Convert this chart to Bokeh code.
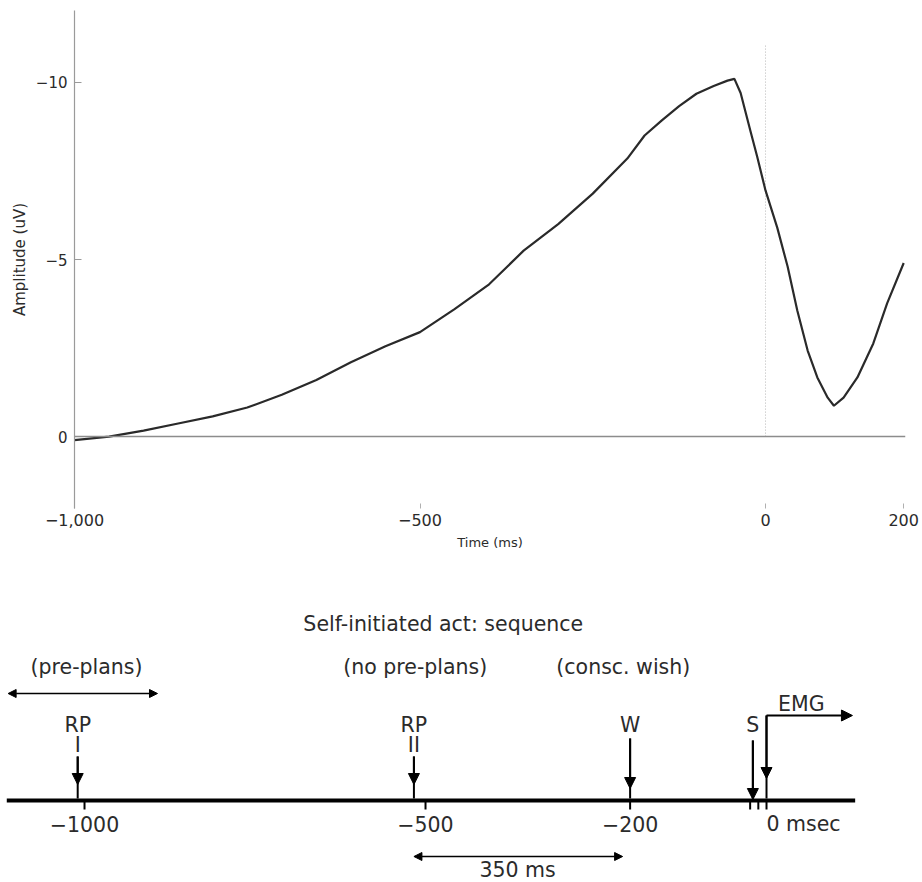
from bokeh.plotting import figure
from bokeh.layouts import column
from bokeh.models import Range1d, FixedTicker, Span, Arrow, NormalHead, ColumnDataSource
from bokeh.core.properties import value
from bokeh.embed import file_html
from bokeh.resources import INLINE

# ---------------- data: readiness potential trace ----------------
time_ms = [-1000, -950, -900, -850, -800, -750, -700, -650, -600, -550, -500,
           -450, -400, -350, -300, -250, -200, -175, -150, -125, -100, -75,
           -55, -45, -36, -22, -12, 0, 17, 32, 46, 61, 75, 90, 99, 113, 133,
           156, 176, 200]
amplitude_uv = [0.1, 0.0, -0.17, -0.37, -0.57, -0.82, -1.18, -1.6, -2.1, -2.55, -2.95,
                -3.6, -4.3, -5.25, -6.0, -6.86, -7.85, -8.5, -8.93, -9.33, -9.68, -9.9,
                -10.05, -10.1, -9.7, -8.64, -7.9, -6.95, -5.9, -4.8, -3.56, -2.43, -1.67,
                -1.1, -0.87, -1.1, -1.67, -2.63, -3.76, -4.9]
x_ticks = [-1000, -500, 0, 200]
x_tick_labels = ["\u22121,000", "\u2212500", "0", "200"]
y_ticks = [-10, -5, 0]
y_tick_labels = ["\u221210", "\u22125", "0"]
onset_ms = [0]
onset_top_uv = [-11.05]

# ---------------- data: timeline diagram ----------------
event_labels_top = ["RP", "RP", "W", "S"]
event_labels_sub = ["I", "II"]
rp_ms = [-1010, -517]
w_ms = [-200]
s_ms = [-20]
emg_ms = [0]
emg_arrow_end_ms = [126]
scale_tick_ms = [-1000, -500, -200, -24, -12, 0]
scale_label_ms = [-1000, -500, -200]
scale_labels = ["\u22121000", "\u2212500", "\u2212200"]
zero_label = ["0 msec"]
timeline_ms = [-1114, 130]
preplan_ms = [-1112, -893]
interval_ms = [-517, -211]
interval_label = ["350 ms"]

FONT = value("DejaVu Sans")
TXT = "#2b2b2b"

# ---------------- top figure ----------------
p = figure(width=920, height=580, x_range=Range1d(-1000, 202.6), y_range=Range1d(2.03, -12.03),
           output_backend="svg", toolbar_location=None,
           min_border_left=74, min_border_right=15, min_border_top=10, min_border_bottom=72)
p.frame_align = False
p.grid.visible = False
p.outline_line_color = None
p.background_fill_color = "white"

p.add_layout(Span(location=0, dimension="width", line_color="#8c8c8c", line_width=1.5))
p.segment(x0=onset_ms, y0=[0], x1=onset_ms, y1=onset_top_uv, line_color="#b8b8b8",
          line_width=1, line_dash="1 2")
p.line(time_ms, amplitude_uv, line_color="#2a2a2a", line_width=2.2)

xa = p.xaxis[0]
xa.ticker = FixedTicker(ticks=x_ticks)
xa.major_label_overrides = {t: l for t, l in zip(x_ticks, x_tick_labels)}
xa.axis_line_color = None
xa.major_tick_in = 5
xa.major_tick_out = 0
xa.major_tick_line_color = "#b0b0b0"
xa.minor_tick_line_color = None
xa.major_label_standoff = 5
xa.major_label_text_font = "DejaVu Sans"
xa.major_label_text_font_size = "16px"
xa.major_label_text_color = TXT
xa.axis_label = "Time (ms)"
xa.axis_label_text_font = "DejaVu Sans"
xa.axis_label_text_font_size = "13px"
xa.axis_label_text_font_style = "normal"
xa.axis_label_text_color = TXT
xa.axis_label_standoff = 6

ya = p.yaxis[0]
ya.ticker = FixedTicker(ticks=y_ticks)
ya.major_label_overrides = {t: l for t, l in zip(y_ticks, y_tick_labels)}
ya.axis_line_color = "#9a9a9a"
ya.axis_line_width = 1.2
ya.major_tick_in = 7
ya.major_tick_out = 0
ya.major_tick_line_color = "#9a9a9a"
ya.minor_tick_line_color = None
ya.major_label_standoff = 7
ya.major_label_text_font = "DejaVu Sans"
ya.major_label_text_font_size = "15px"
ya.major_label_text_color = TXT
ya.axis_label = "Amplitude (uV)"
ya.axis_label_text_font = "DejaVu Sans"
ya.axis_label_text_font_size = "15px"
ya.axis_label_text_font_style = "normal"
ya.axis_label_text_color = TXT
ya.axis_label_standoff = 4

# ---------------- bottom figure (timeline) ----------------
q = figure(width=920, height=300, x_range=Range1d(-1123.2, 225.8), y_range=Range1d(880, 580),
           output_backend="svg", toolbar_location=None, x_axis_type=None, y_axis_type=None,
           min_border=0)
q.frame_align = False
q.grid.visible = False
q.outline_line_color = None

def txt(xs, ys, texts, size="20.5px", align="center"):
    q.text(x=xs, y=ys, text=texts, text_font=FONT, text_font_size=size,
           text_align=align, text_baseline="middle", text_color=TXT)

# timeline and scale ticks
q.segment(x0=[timeline_ms[0]], y0=[800], x1=[timeline_ms[1]], y1=[800],
          line_color="black", line_width=4)
q.segment(x0=scale_tick_ms, y0=[800] * len(scale_tick_ms), x1=scale_tick_ms,
          y1=[809] * len(scale_tick_ms), line_color="black", line_width=2)
txt(scale_label_ms, [823] * 3, scale_labels)
txt(emg_ms, [823], zero_label, align="left")

# event arrows (shaft to timeline + arrowhead)
ev_x = rp_ms + w_ms + s_ms + emg_ms
ev_top = [756, 756, 738, 740, 715]
ev_tip = [784, 784, 788, 799, 778]
q.segment(x0=ev_x, y0=ev_top, x1=ev_x, y1=[798] * len(ev_x), line_color="black", line_width=2)
src = ColumnDataSource(dict(x=ev_x, y0=ev_top, y1=ev_tip))
q.add_layout(Arrow(end=NormalHead(size=11, fill_color="black", line_color="black"),
                   x_start="x", y_start="y0", x_end="x", y_end="y1", source=src,
                   line_color="black", line_width=2))

# EMG horizontal arrow
q.add_layout(Arrow(end=NormalHead(size=11, fill_color="black", line_color="black"),
                   x_start=emg_ms[0], y_start=715, x_end=emg_arrow_end_ms[0], y_end=715,
                   line_color="black", line_width=2))

# event labels
txt(rp_ms + w_ms + s_ms, [724] * 4, event_labels_top)
txt(rp_ms, [744, 744], event_labels_sub)
txt([51], [703], ["EMG"])

# double arrows
for span, yy in ((preplan_ms, 693), (interval_ms, 856)):
    q.add_layout(Arrow(start=NormalHead(size=8, fill_color="black", line_color="black"),
                       end=NormalHead(size=8, fill_color="black", line_color="black"),
                       x_start=span[0], y_start=yy, x_end=span[1], y_end=yy,
                       line_color="black", line_width=1.5))
txt([-365], [869], interval_label)

# headings
txt([-474], [623], ["Self-initiated act: sequence"])
txt([-997, -515, -210], [666] * 3, ["(pre-plans)", "(no pre-plans)", "(consc. wish)"])

layout = column(p, q)
open("out.html", "w").write(file_html(layout, INLINE))
